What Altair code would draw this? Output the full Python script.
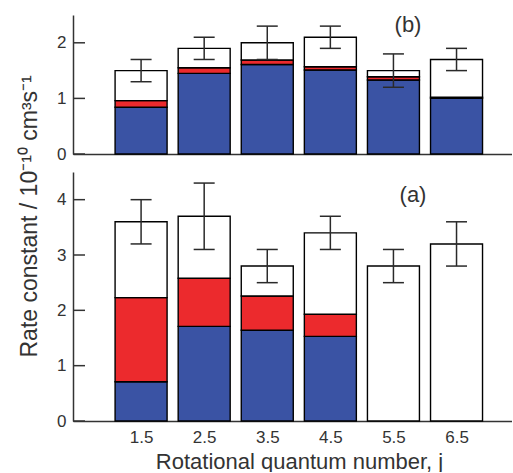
import altair as alt
import pandas as pd

FONT = "Liberation Sans"
BLUE = "#3a53a4"
RED = "#ec2a2d"
INK = "#2a2a2a"

# Rotational quantum number
j = [1.5, 2.5, 3.5, 4.5, 5.5, 6.5]

# Panel (a): blue part, top of red part, total (white top), error half-width
a_blue = [0.71, 1.71, 1.64, 1.53, 0.0, 0.0]
a_red_top = [2.23, 2.58, 2.26, 1.93, 0.0, 0.0]
a_total = [3.6, 3.7, 2.8, 3.4, 2.8, 3.2]
a_err = [0.4, 0.6, 0.3, 0.3, 0.3, 0.4]

# Panel (b)
b_blue = [0.84, 1.45, 1.61, 1.51, 1.33, 1.00]
b_red_top = [0.96, 1.55, 1.69, 1.57, 1.39, 1.02]
b_total = [1.5, 1.9, 2.0, 2.1, 1.5, 1.7]
b_err = [0.2, 0.2, 0.3, 0.2, 0.3, 0.2]

a_ticks = [0, 1, 2, 3, 4]
b_ticks = [0, 1, 2]

Y_TITLE = "Rate constant / 10⁻¹⁰ cm³s⁻¹"
X_TITLE = "Rotational quantum number, j"

W = 439
xscale = alt.Scale(domain=[0.5, 7.3], nice=False, zero=False)


def panel(blue, red_top, total, err, ymax, ticks, height, label, label_xy, bottom):
    rows = []
    for jj, b, r, t in zip(j, blue, red_top, total):
        for name, lo, hi in (("blue", 0.0, b), ("red", b, r), ("white", r, t)):
            if hi > lo:
                rows.append({"j": jj, "seg": name, "lo": lo, "hi": hi})
    segs = pd.DataFrame(rows)
    errs = pd.DataFrame({"j": j, "total": total, "err": err})
    tick_df = pd.DataFrame({"v": ticks})

    yscale = alt.Scale(domain=[0, ymax], nice=False)

    if bottom:
        xaxis = alt.Axis(values=j, format=".1f", labelFontSize=17, labelPadding=8,
                         ticks=False, tickSize=0, grid=False, domainWidth=1.5,
                         title=X_TITLE, titleFontSize=22, titleFontWeight="normal",
                         titleX=226, titleY=47, titleBaseline="alphabetic",
                         titleAlign="center")
        yaxis = alt.Axis(values=ticks, format="d", labelFontSize=17, labelPadding=7,
                         ticks=False, tickSize=0, grid=False, domainWidth=1.5,
                         title=Y_TITLE, titleFontSize=23, titleFontWeight="normal",
                         titleAngle=270, titleX=-37, titleY=185,
                         titleAlign="left", titleBaseline="alphabetic")
    else:
        xaxis = alt.Axis(values=j, labels=False, ticks=False, tickSize=0, grid=False,
                         domainWidth=1.5, title=None)
        yaxis = alt.Axis(values=ticks, format="d", labelFontSize=17, labelPadding=7,
                         ticks=False, tickSize=0, grid=False, domainWidth=1.5, title=None)

    bars = alt.Chart(segs).mark_bar(size=52, stroke="black", strokeWidth=1.4).encode(
        x=alt.X("j:Q", scale=xscale, axis=xaxis),
        y=alt.Y("lo:Q", scale=yscale, axis=yaxis),
        y2="hi:Q",
        fill=alt.Fill("seg:N", scale=alt.Scale(domain=["blue", "red", "white"],
                                               range=[BLUE, RED, "white"]), legend=None),
    )

    ebase = alt.Chart(errs).transform_calculate(
        elo="datum.total - datum.err", ehi="datum.total + datum.err"
    )
    stem = ebase.mark_rule(color=INK, strokeWidth=1.5).encode(
        x=alt.X("j:Q", scale=xscale, axis=xaxis),
        y=alt.Y("elo:Q", scale=yscale, axis=yaxis),
        y2="ehi:Q",
    )
    cap_lo = ebase.mark_rule(color=INK, strokeWidth=1.5, xOffset=-10.5, x2Offset=10.5).encode(
        x=alt.X("j:Q", scale=xscale, axis=xaxis),
        x2="j:Q",
        y=alt.Y("elo:Q", scale=yscale, axis=yaxis),
    )
    cap_hi = ebase.mark_rule(color=INK, strokeWidth=1.5, xOffset=-10.5, x2Offset=10.5).encode(
        x=alt.X("j:Q", scale=xscale, axis=xaxis),
        x2="j:Q",
        y=alt.Y("ehi:Q", scale=yscale, axis=yaxis),
    )

    inner_ticks = alt.Chart(tick_df).mark_rule(color="#333333", strokeWidth=1.5).encode(
        x=alt.value(0),
        x2=alt.value(12),
        y=alt.Y("v:Q", scale=yscale, axis=yaxis),
    )

    lab = alt.Chart(pd.DataFrame({"t": [label]})).mark_text(
        font=FONT, fontSize=22, color="#333333", align="center", baseline="middle"
    ).encode(x=alt.value(label_xy[0]), y=alt.value(label_xy[1]), text="t:N")

    layers = [bars, stem, cap_lo, cap_hi, inner_ticks, lab]
    if not bottom:
        anchor = alt.Chart(pd.DataFrame({"t": [0]})).mark_rule(color="white").encode(
            x=alt.value(-72), y=alt.value(0), y2=alt.value(1)
        )
        layers.append(anchor)

    return alt.layer(*layers).properties(width=W, height=height)


top = panel(b_blue, b_red_top, b_total, b_err, 2.5, b_ticks, 139, "(b)", (335, 10), False)
bot = panel(a_blue, a_red_top, a_total, a_err, 4.5, a_ticks, 249, "(a)", (340, 23), True)

chart = alt.vconcat(top, bot, spacing=18, bounds="flush").properties(
    padding={"left": 0, "top": 14, "right": 0, "bottom": 0}
).configure_view(stroke=None).configure_axis(
    labelFont=FONT, titleFont=FONT, labelColor="#333333", titleColor="#333333",
    domainColor="#333333"
)

chart.save("out.html", embed_options={"renderer": "svg", "actions": False})
